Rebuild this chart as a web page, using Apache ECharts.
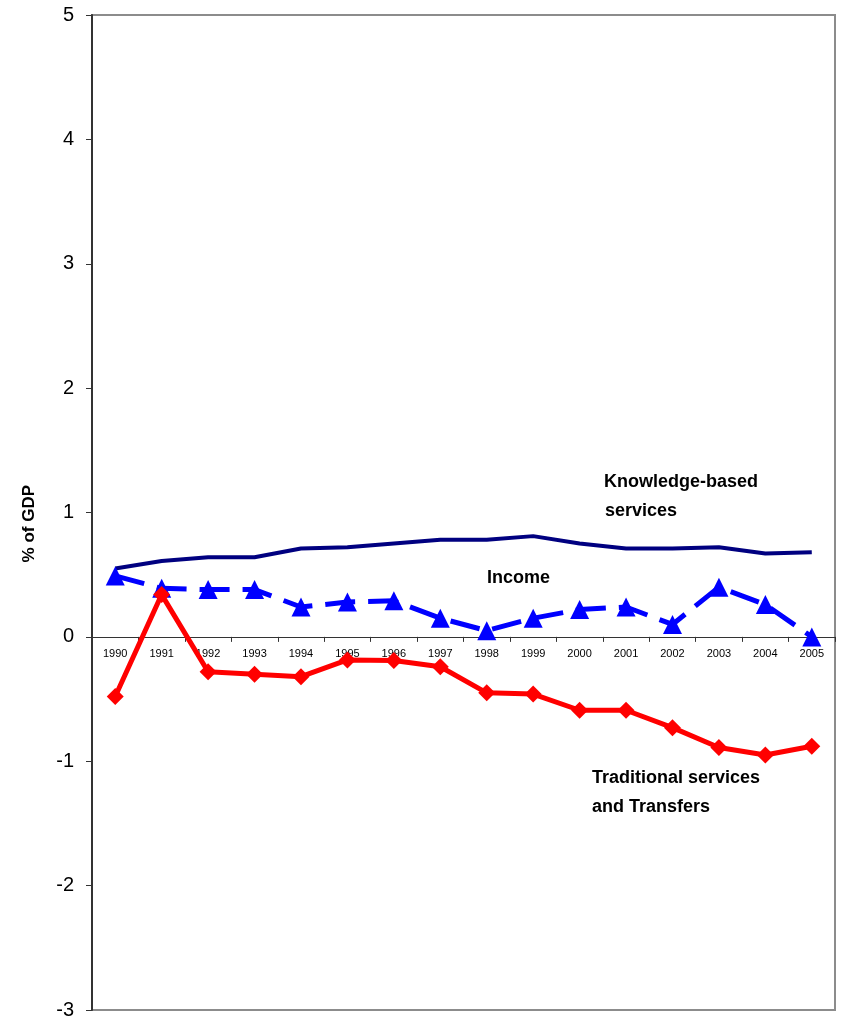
<!DOCTYPE html>
<html>
<head>
<meta charset="utf-8">
<title>% of GDP</title>
<script src="https://cdn.jsdelivr.net/npm/echarts@6/dist/echarts.min.js"></script>
<style>
html,body{margin:0;padding:0;background:#fff;}
#main{width:843px;height:1022px;}
</style>
</head>
<body>
<div id="main"></div>
<script>
// data
var years = ['1990','1991','1992','1993','1994','1995','1996','1997','1998','1999','2000','2001','2002','2003','2004','2005'];
var knowledge = [0.55, 0.61, 0.64, 0.64, 0.71, 0.72, 0.75, 0.78, 0.78, 0.81, 0.75, 0.71, 0.71, 0.72, 0.67, 0.68];
var income = [0.49, 0.39, 0.38, 0.38, 0.24, 0.28, 0.29, 0.15, 0.05, 0.15, 0.22, 0.24, 0.10, 0.40, 0.26, 0.00];
var traditional = [-0.48, 0.34, -0.28, -0.30, -0.32, -0.185, -0.19, -0.24, -0.45, -0.46, -0.59, -0.59, -0.73, -0.89, -0.95, -0.88];
var yTicks = [-3, -2, -1, 0, 1, 2, 3, 4, 5];

var ff = "Arial, 'Liberation Sans', sans-serif";
var chart = echarts.init(document.getElementById('main'));

// grid geometry, used to lift the category axis up to y = 0
var gridTop = 15, gridBottom = 12;
var plotH = 1022 - gridTop - gridBottom;
var yMin = yTicks[0], yMax = yTicks[yTicks.length - 1];
var zeroOffset = -plotH * (0 - yMin) / (yMax - yMin);

var option = {
    animation: false,
    backgroundColor: '#fff',
    grid: {
        left: 92, right: 8, top: gridTop, bottom: gridBottom,
        outerBoundsMode: 'none',
        containLabel: false,
        show: true,
        borderColor: '#8c8c8c',
        borderWidth: 2,
        backgroundColor: 'transparent'
    },
    xAxis: {
        type: 'category',
        data: years,
        boundaryGap: true,
        position: 'bottom',
        offset: zeroOffset,
        axisLine: { onZero: false, lineStyle: { color: '#333', width: 1 } },
        axisTick: { show: true, length: 5, inside: false, lineStyle: { color: '#333' } },
        axisLabel: { fontSize: 11, color: '#000', fontFamily: ff, margin: 12, interval: 0 },
        splitLine: { show: false }
    },
    yAxis: {
        type: 'value',
        min: yMin,
        max: yMax,
        interval: 1,
        axisLine: { show: true, lineStyle: { color: '#333', width: 2 } },
        axisTick: { show: true, length: 6, lineStyle: { color: '#333' } },
        axisLabel: { fontSize: 20, color: '#000', fontFamily: ff, margin: 18 },
        splitLine: { show: false }
    },
    graphic: [
        { type: 'text', left: 21, top: 485, rotation: Math.PI / 2,
          style: { text: '% of GDP', font: 'bold 17px ' + ff, fill: '#000' } },
        { type: 'text', x: 604, y: 482, style: { text: 'Knowledge-based', font: 'bold 18px ' + ff, fill: '#000', verticalAlign: 'middle' } },
        { type: 'text', x: 605, y: 511, style: { text: 'services', font: 'bold 18px ' + ff, fill: '#000', verticalAlign: 'middle' } },
        { type: 'text', x: 487, y: 578, style: { text: 'Income', font: 'bold 18px ' + ff, fill: '#000', verticalAlign: 'middle' } },
        { type: 'text', x: 592, y: 778, style: { text: 'Traditional services', font: 'bold 18px ' + ff, fill: '#000', verticalAlign: 'middle' } },
        { type: 'text', x: 592, y: 807, style: { text: 'and Transfers', font: 'bold 18px ' + ff, fill: '#000', verticalAlign: 'middle' } }
    ],
    series: [
        {
            name: 'Knowledge-based services',
            type: 'line',
            data: knowledge,
            showSymbol: false,
            symbol: 'none',
            lineStyle: { color: '#000080', width: 4 },
            z: 3
        },
        {
            name: 'Income',
            type: 'line',
            data: income,
            symbol: 'triangle',
            symbolSize: 19,
            itemStyle: { color: '#0000ff' },
            lineStyle: { color: '#0000ff', width: 5, type: [30, 13] },
            z: 4
        },
        {
            name: 'Traditional services and Transfers',
            type: 'line',
            data: traditional,
            symbol: 'diamond',
            symbolSize: 17,
            itemStyle: { color: '#ff0000' },
            lineStyle: { color: '#ff0000', width: 5 },
            z: 5
        }
    ]
};
chart.setOption(option);
</script>
</body>
</html>
